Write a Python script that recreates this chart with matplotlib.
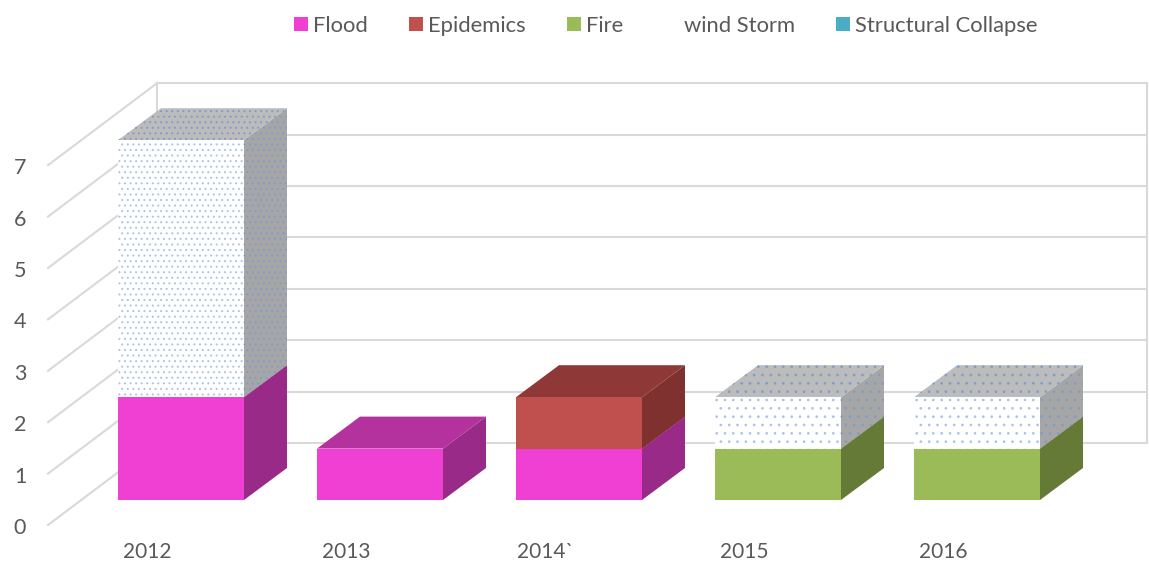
import matplotlib
matplotlib.use("Agg")
import matplotlib.pyplot as plt
from matplotlib.patches import Polygon, Patch

plt.rcParams['font.family'] = ['Lato', 'DejaVu Sans']
plt.rcParams['hatch.linewidth'] = 0.7

categories = ["2012", "2013", "2014`", "2015", "2016"]
flood = [2, 1, 1, 0, 0]
epidemics = [0, 0, 1, 0, 0]
fire = [0, 0, 0, 1, 1]
wind_storm = [5, 0, 0, 1, 1]
structural = [0, 0, 0, 0, 0]
y_ticks = [0, 1, 2, 3, 4, 5, 6, 7]

W, H = 1149, 564
PX_Y = 51.4      # pixels per unit
PX_X = 199.0     # pixels per category
Y0 = 500.0       # pixel row of value 0 on the bar plane
X0 = 181.0       # pixel column of first bar centre

fig = plt.figure(figsize=(W / 100, H / 100), dpi=100)
ax = fig.add_axes([0, 0, 1, 1])
ax.set_xlim(-X0 / PX_X, (W - X0) / PX_X)
ax.set_ylim((Y0 - H) / PX_Y, Y0 / PX_Y)
ax.axis("off")

bar_w = 126 / PX_X
depth_x, depth_y = 43 / PX_X, 32 / PX_Y

# Wall / floor offsets from the bar plane
back_dx0, back_dy = (157 - X0) / PX_X, (Y0 - 443) / PX_Y
front_dx0, front_dy = (48 - X0) / PX_X, (Y0 - 525) / PX_Y
right = (1147 - X0) / PX_X
grid = "#d9d9d9"
for v in y_ticks:
    ax.plot([front_dx0, back_dx0], [v + front_dy, v + back_dy], color=grid, lw=1.5, zorder=1)
    ax.plot([back_dx0, right], [v + back_dy, v + back_dy], color=grid, lw=1.5, zorder=1)
for xw in (back_dx0, right):
    ax.plot([xw, xw], [y_ticks[0] + back_dy, y_ticks[-1] + back_dy], color=grid, lw=1.5, zorder=1)

series = [
    ("Flood", flood, "#f040d4", "#9a2a88", "#b4329e", None),
    ("Epidemics", epidemics, "#c0504d", "#7f3130", "#8f3838", None),
    ("Fire", fire, "#9bbb59", "#667a38", "#7c9647", None),
    ("wind Storm", wind_storm, "#ffffff", "#a6a6a6", "#bcbcbc", "dots"),
    ("Structural Collapse", structural, "#4bacc6", "#2f7286", "#38879c", None),
]

for i in range(len(categories)):
    base = 0
    left = i - bar_w / 2
    rgt = i + bar_w / 2
    for name, vals, front, side, top, pattern in series:
        v = vals[i]
        if v == 0:
            continue
        t = base + v
        hatch = None
        if pattern:
            hatch = "..." if v > 1 else ".."
        front_kw = dict(lw=0, hatch=hatch, edgecolor="#a9c4e6" if hatch else "none")
        dark_kw = dict(lw=0, hatch=hatch, edgecolor="#7f9ccb" if hatch else "none")
        ax.add_patch(Polygon([(rgt, base), (rgt + depth_x, base + depth_y),
                              (rgt + depth_x, t + depth_y), (rgt, t)],
                             facecolor=side, zorder=3, **dark_kw))
        ax.add_patch(Polygon([(left, t), (rgt, t), (rgt + depth_x, t + depth_y),
                              (left + depth_x, t + depth_y)],
                             facecolor=top, zorder=3, **dark_kw))
        ax.add_patch(Polygon([(left, base), (rgt, base), (rgt, t), (left, t)],
                             facecolor=front, zorder=3, **front_kw))
        base = t

txt = "#595959"
for v in y_ticks:
    ax.text(-161 / PX_X, v + (Y0 - 528) / PX_Y, str(v), ha="center", va="center",
            fontsize=15.5, color=txt)
for i, c in enumerate(categories):
    ax.text(i - 34 / PX_X, -52 / PX_Y, c, ha="center", va="center", fontsize=15, color=txt)

handles = [Patch(facecolor=(s[2] if s[0] != "wind Storm" else "none"), edgecolor="none", label=s[0])
           for s in series]
leg = fig.legend(handles=handles, ncol=5, loc="center", bbox_to_anchor=(666 / W, 1 - 26 / H),
                 frameon=False, fontsize=15.8, labelcolor=txt, handlelength=0.63, handleheight=0.63,
                 handletextpad=0.23, columnspacing=1.89, borderpad=0)

fig.savefig("out.png", dpi=100)
